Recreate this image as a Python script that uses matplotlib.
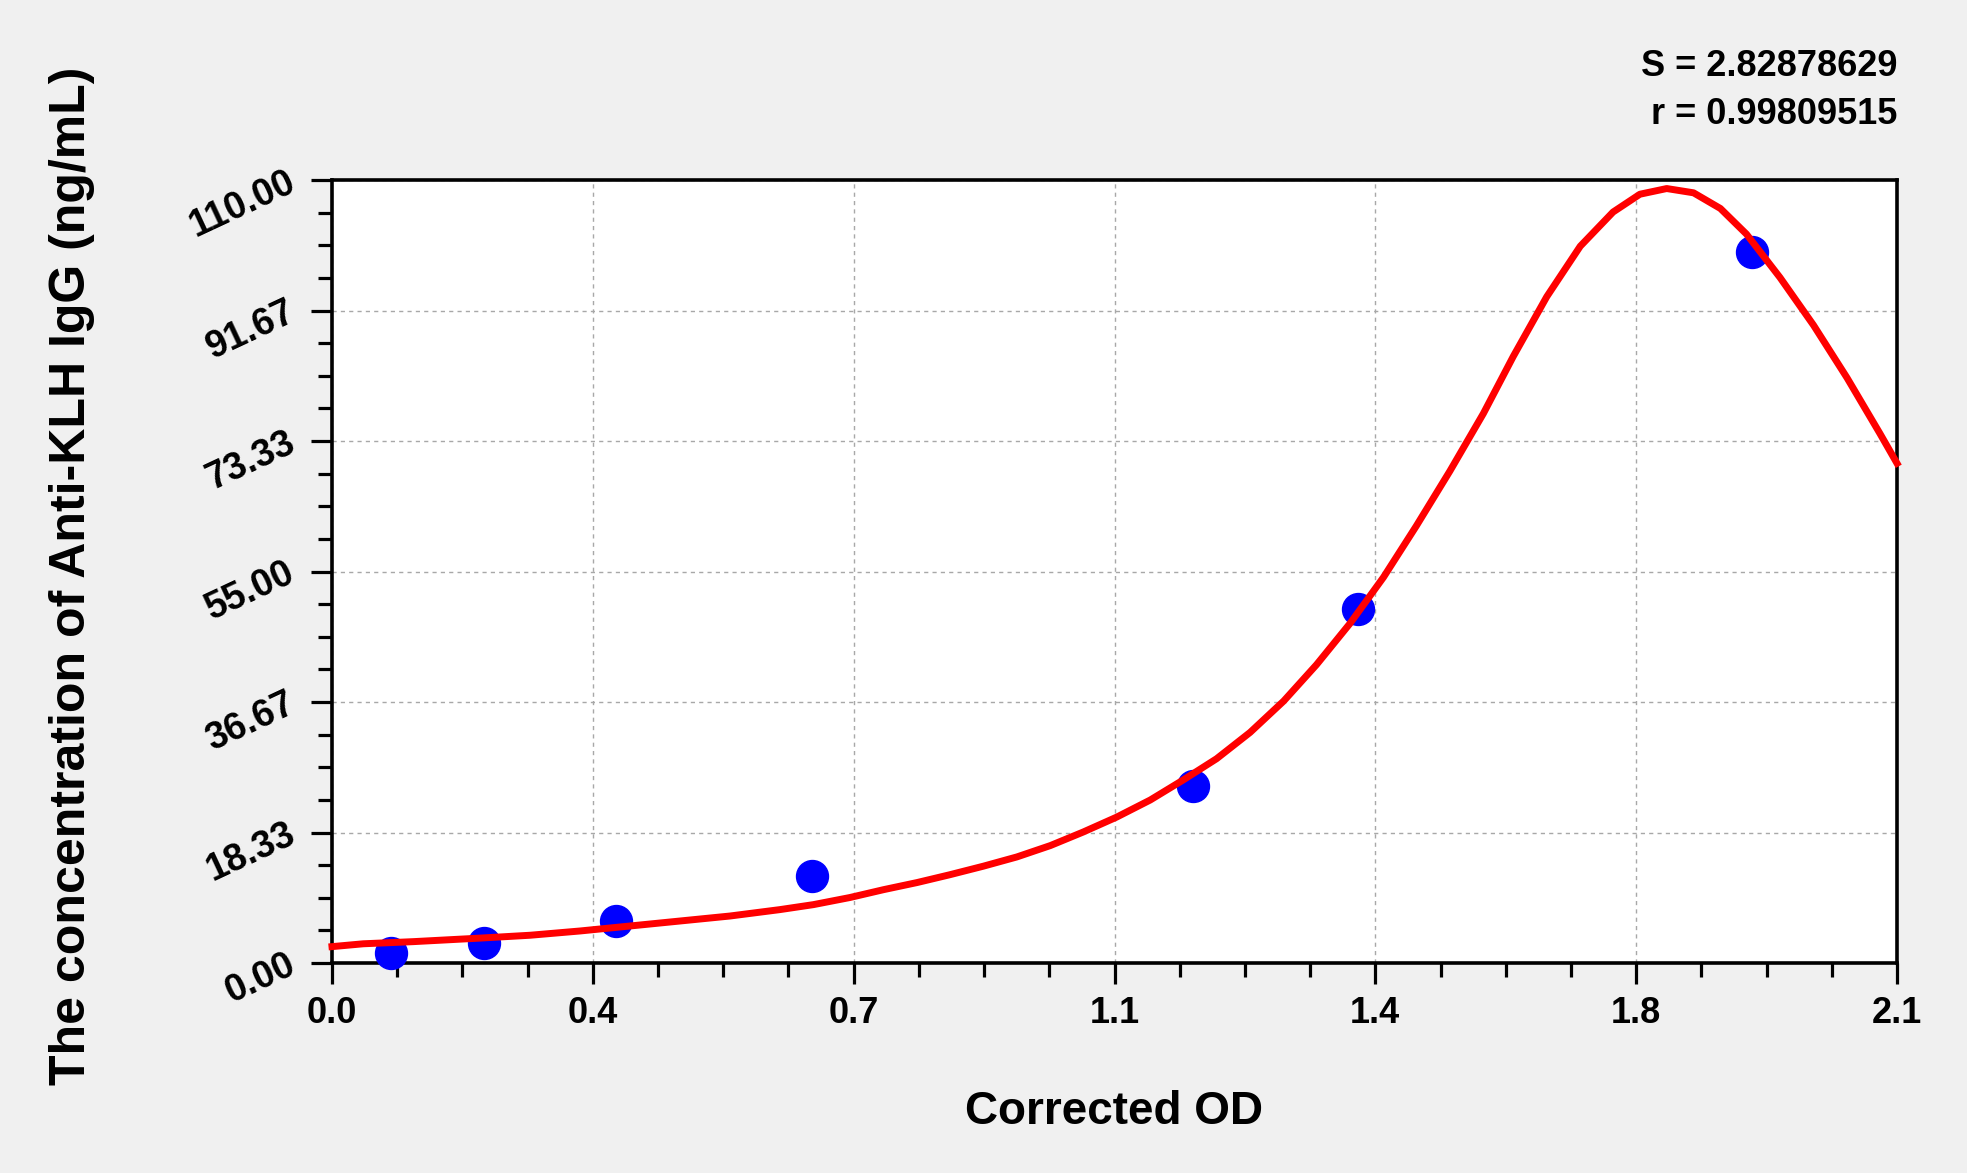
import matplotlib.pyplot as plt
import numpy as np
from matplotlib.ticker import AutoMinorLocator

plt.rcParams['font.family'] = ['Liberation Sans', 'DejaVu Sans']
plt.rcParams['font.weight'] = 'bold'

# standard points (corrected OD vs concentration)
od = [0.079, 0.204, 0.381, 0.644, 1.155, 1.377, 1.905]
conc = [1.4, 2.8, 5.9, 12.2, 24.8, 49.8, 99.9]

# fitted curve
fit_od = [0.0, 0.042, 0.109, 0.199, 0.266, 0.333, 0.400, 0.467, 0.534, 0.601,
          0.646, 0.695, 0.740, 0.785, 0.829, 0.874, 0.919, 0.964, 1.008, 1.053,
          1.098, 1.142, 1.187, 1.232, 1.277, 1.321, 1.366, 1.411, 1.455, 1.500,
          1.545, 1.585, 1.630, 1.675, 1.719, 1.755, 1.791, 1.827, 1.863, 1.898,
          1.943, 1.988, 2.033, 2.077, 2.1]
fit_conc = [2.3, 2.7, 3.0, 3.5, 3.9, 4.5, 5.2, 5.9, 6.6, 7.5,
            8.2, 9.2, 10.3, 11.3, 12.4, 13.6, 14.9, 16.5, 18.4, 20.5,
            22.9, 25.7, 28.7, 32.4, 36.8, 41.9, 47.7, 54.2, 61.4, 69.1,
            77.2, 85.2, 93.6, 100.7, 105.5, 108.0, 108.8, 108.2, 106.0, 102.4,
            96.3, 89.6, 82.2, 74.4, 70.2]

x_labels = ['0.0', '0.4', '0.7', '1.1', '1.4', '1.8', '2.1']
y_labels = ['0.00', '18.33', '36.67', '55.00', '73.33', '91.67', '110.00']

fig = plt.figure(figsize=(19.67, 11.73), dpi=100, facecolor='#f0f0f0')
ax = fig.add_axes([332 / 1967, 1 - 963 / 1173, (1897 - 332) / 1967, (963 - 180) / 1173])
ax.set_facecolor('white')

ax.plot(od, conc, 'o', color='#0000ff', markersize=23, zorder=3, clip_on=False)
ax.plot(fit_od, fit_conc, color='#ff0000', lw=5, zorder=4, clip_on=False,
        solid_joinstyle='round')

ax.set_xlim(0, 2.1)
ax.set_ylim(0, 110)
ax.set_xticks(np.linspace(0, 2.1, len(x_labels)))
ax.set_xticklabels(x_labels)
ax.set_yticks(np.linspace(0, 110, len(y_labels)))
ax.set_yticklabels(y_labels)
ax.xaxis.set_minor_locator(AutoMinorLocator(4))
ax.yaxis.set_minor_locator(AutoMinorLocator(4))

ax.grid(True, which='major', linestyle=(0, (3, 3)), color='#a8a8a8', linewidth=1)
ax.set_axisbelow(True)

for s in ax.spines.values():
    s.set_linewidth(2.6)
    s.set_color('black')

ax.tick_params(which='major', length=15, width=2.3, direction='out')
ax.tick_params(which='minor', length=10, width=2.3, direction='out')
ax.tick_params(axis='x', labelsize=26, pad=9)
ax.tick_params(axis='y', labelsize=27, pad=13)
for lab in ax.get_yticklabels():
    lab.set_rotation(25)
    lab.set_rotation_mode('anchor')
    lab.set_ha('right')
    lab.set_va('center')
    lab.set_fontweight('bold')
for lab in ax.get_xticklabels():
    lab.set_fontweight('bold')

fig.text(1114 / 1967, 1 - 1112 / 1173, 'Corrected OD', ha='center', va='center',
         fontsize=33, fontweight='bold')
fig.text(72 / 1967, 1 - 576 / 1173, 'The concentration of Anti-KLH IgG (ng/mL)',
         rotation=90, ha='center', va='center', fontsize=36, fontweight='bold')
fig.text(1897 / 1967, 1 - 66 / 1173, 'S = 2.82878629', ha='right', va='center',
         fontsize=26, fontweight='bold')
fig.text(1897 / 1967, 1 - 114 / 1173, 'r = 0.99809515', ha='right', va='center',
         fontsize=26, fontweight='bold')

fig.savefig('out.png', dpi=100, facecolor=fig.get_facecolor())
